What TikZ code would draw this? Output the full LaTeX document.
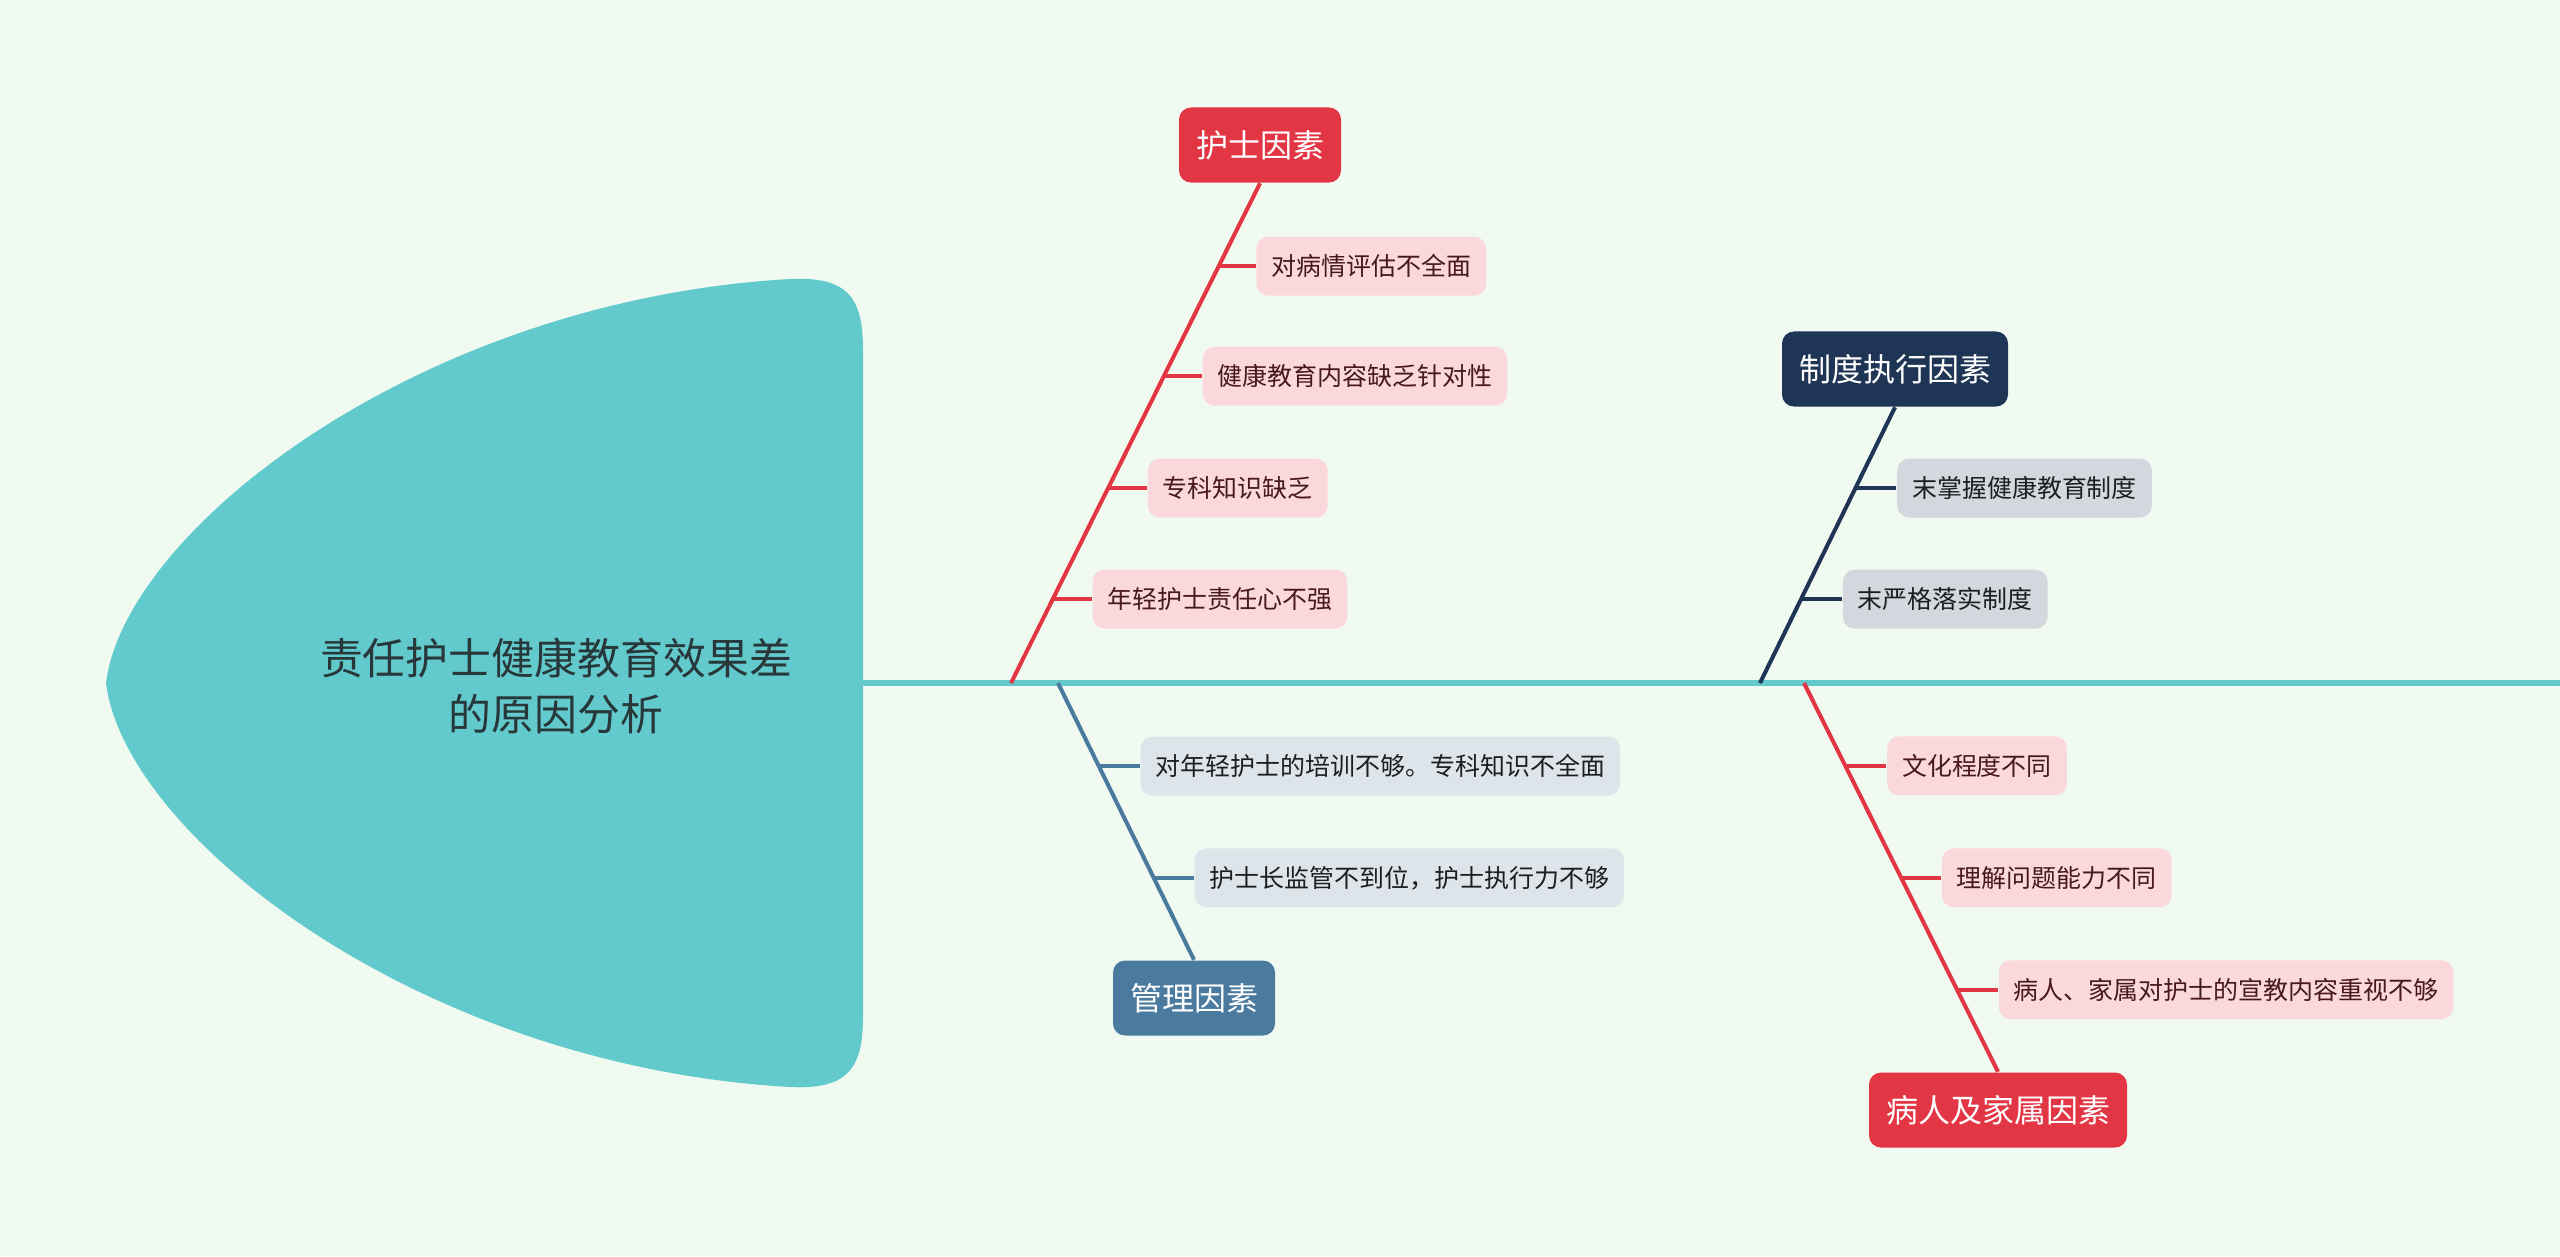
\documentclass[tikz,border=0pt]{standalone}
\usepackage{fontspec}
\setmainfont{Noto Sans CJK SC}
\usetikzlibrary{positioning, calc}
\usepackage{xcolor}
\definecolor{bgcolor}{RGB}{241, 250, 240}
\definecolor{headcolor}{RGB}{98, 202, 204}
\definecolor{titlecolor}{RGB}{40, 55, 58}
\definecolor{nursecolor}{RGB}{226, 54, 68}
\definecolor{nursesub}{RGB}{250, 216, 220}
\definecolor{nursetext}{RGB}{72, 24, 28}
\definecolor{mgmtcolor}{RGB}{74, 122, 158}
\definecolor{mgmtsub}{RGB}{221, 228, 234}
\definecolor{syscolor}{RGB}{31, 53, 86}
\definecolor{syssub}{RGB}{212, 216, 222}
\definecolor{subtext}{RGB}{28, 30, 34}

\begin{document}
\begin{tikzpicture}[x=0.01cm, y=-0.01cm,
        catbox/.style={rounded corners=0.12cm, minimum height=0.75cm,
              inner xsep=0.17cm, text=white, font=\fontsize{9.1}{11}\selectfont},
        subbox/.style={rounded corners=0.12cm, minimum height=0.59cm,
              inner xsep=0.15cm, font=\fontsize{7.1}{9}\selectfont},
        bone/.style={line width=1.15pt},
        stub/.style={line width=1.1pt}]
        \useasboundingbox (0,0) rectangle (2560,1256);
        \fill[bgcolor] (0,0) rectangle (2560,1256);

        % fish head
        \fill[headcolor] (106,683) .. controls (125,530) and (420,300) .. (790,279)
              .. controls (850,276) and (863,300) .. (863,350) -- (863,1016)
              .. controls (863,1066) and (850,1090) .. (790,1087)
              .. controls (420,1066) and (125,836) .. (106,683) -- cycle;
        \node[align=center, text=titlecolor, font=\fontsize{12.2}{15.9}\selectfont] (title)
              at (556,686) {责任护士健康教育效果差\\的原因分析};

        % spine
        \coordinate (neck) at (863,683);
        \coordinate (tail) at (2560,683);
        \draw[headcolor, line width=1.45pt] (neck) -- (tail);
        \coordinate (s1) at (1011,683);
        \coordinate (s2) at (1058,683);
        \coordinate (s3) at (1760,683);
        \coordinate (s4) at (1804,683);

        % main causes
        \node[catbox, fill=nursecolor] (nurse) at (1260,145) {护士因素};
        \node[catbox, fill=mgmtcolor] (mgmt) at (1194,998) {管理因素};
        \node[catbox, fill=syscolor] (sys) at (1895,369) {制度执行因素};
        \node[catbox, fill=nursecolor] (pat) at (1998,1110) {病人及家属因素};

        \draw[nursecolor, bone] (s1) -- (nurse.south);
        \draw[mgmtcolor, bone] (s2) -- (mgmt.north);
        \draw[syscolor, bone] (s3) -- (sys.south);
        \draw[nursecolor, bone] (s4) -- (pat.north);

        % nurse factors
        \coordinate (n1) at ($(s1)!0.168!(nurse.south)$);
        \coordinate (n2) at ($(s1)!0.390!(nurse.south)$);
        \coordinate (n3) at ($(s1)!0.614!(nurse.south)$);
        \coordinate (n4) at ($(s1)!0.834!(nurse.south)$);
        \node[subbox, fill=nursesub, text=nursetext, right=0.39cm of n1] (n1t) {年轻护士责任心不强};
        \node[subbox, fill=nursesub, text=nursetext, right=0.39cm of n2] (n2t) {专科知识缺乏};
        \node[subbox, fill=nursesub, text=nursetext, right=0.38cm of n3] (n3t) {健康教育内容缺乏针对性};
        \node[subbox, fill=nursesub, text=nursetext, right=0.37cm of n4] (n4t) {对病情评估不全面};
        \draw[nursecolor, stub] (n1) -- (n1t);
        \draw[nursecolor, stub] (n2) -- (n2t);
        \draw[nursecolor, stub] (n3) -- (n3t);
        \draw[nursecolor, stub] (n4) -- (n4t);

        % management factors
        \coordinate (m1) at ($(s2)!0.300!(mgmt.north)$);
        \coordinate (m2) at ($(s2)!0.704!(mgmt.north)$);
        \node[subbox, fill=mgmtsub, text=subtext, right=0.41cm of m1] (m1t) {对年轻护士的培训不够。专科知识不全面};
        \node[subbox, fill=mgmtsub, text=subtext, right=0.40cm of m2] (m2t) {护士长监管不到位，护士执行力不够};
        \draw[mgmtcolor, stub] (m1) -- (m1t);
        \draw[mgmtcolor, stub] (m2) -- (m2t);

        % system factors
        \coordinate (y1) at ($(s3)!0.304!(sys.south)$);
        \coordinate (y2) at ($(s3)!0.707!(sys.south)$);
        \node[subbox, fill=syssub, text=subtext, right=0.41cm of y1] (y1t) {末严格落实制度};
        \node[subbox, fill=syssub, text=subtext, right=0.41cm of y2] (y2t) {末掌握健康教育制度};
        \draw[syscolor, stub] (y1) -- (y1t);
        \draw[syscolor, stub] (y2) -- (y2t);

        % patient and family factors
        \coordinate (p1) at ($(s4)!0.213!(pat.north)$);
        \coordinate (p2) at ($(s4)!0.501!(pat.north)$);
        \coordinate (p3) at ($(s4)!0.789!(pat.north)$);
        \node[subbox, fill=nursesub, text=nursetext, right=0.41cm of p1] (p1t) {文化程度不同};
        \node[subbox, fill=nursesub, text=nursetext, right=0.40cm of p2] (p2t) {理解问题能力不同};
        \node[subbox, fill=nursesub, text=nursetext, right=0.41cm of p3] (p3t) {病人、家属对护士的宣教内容重视不够};
        \draw[nursecolor, stub] (p1) -- (p1t);
        \draw[nursecolor, stub] (p2) -- (p2t);
        \draw[nursecolor, stub] (p3) -- (p3t);
      \end{tikzpicture}
\end{document}
